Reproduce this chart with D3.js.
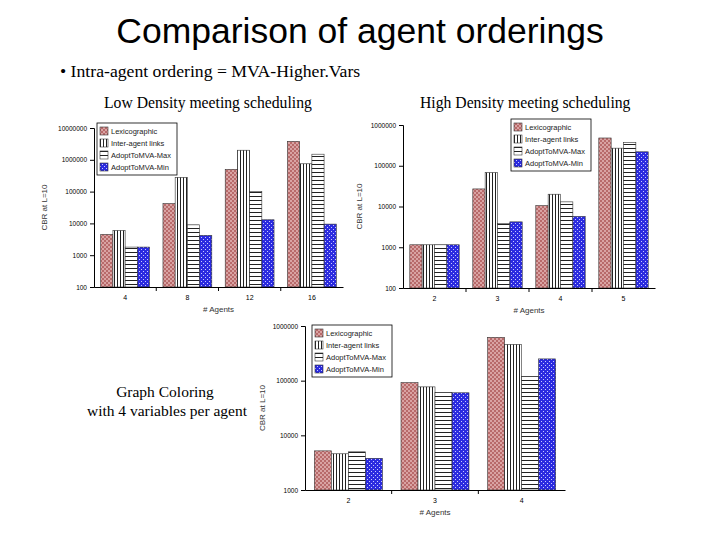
<!DOCTYPE html>
<html><head><meta charset="utf-8">
<script src="https://cdn.jsdelivr.net/npm/d3@7"></script>
<style>body{margin:0;background:#fff}</style>
</head><body>
<svg id="chart" width="720" height="540"></svg>
<script>
// series names shared by all three charts
const seriesNames = ["Lexicographic", "Inter-agent links", "AdoptToMVA-Max", "AdoptToMVA-Min"];

// low density meeting scheduling
const lowAgents = ["4", "8", "12", "16"];
const lowLex = [4500, 42000, 500000, 3800000];
const lowInter = [6000, 280000, 2000000, 750000];
const lowMax = [1800, 9000, 100000, 1500000];
const lowMin = [1800, 4200, 13000, 9500];
const lowTicks = [100, 1000, 10000, 100000, 1000000, 10000000];

// high density meeting scheduling
const highAgents = ["2", "3", "4", "5"];
const highLex = [1150, 27000, 10500, 480000];
const highInter = [1150, 68000, 20000, 270000];
const highMax = [1150, 3800, 13000, 370000];
const highMin = [1150, 4200, 5700, 220000];
const highTicks = [100, 1000, 10000, 100000, 1000000];

// graph coloring
const gcAgents = ["2", "3", "4"];
const gcLex = [5200, 92000, 620000];
const gcInter = [4600, 77000, 460000];
const gcMax = [5000, 61000, 120000];
const gcMin = [3800, 60000, 250000];
const gcTicks = [1000, 10000, 100000, 1000000];

const svg = d3.select("#chart");
const defs = svg.append("defs");

// fill patterns
const p0 = defs.append("pattern").attr("id", "pLex").attr("width", 4).attr("height", 4).attr("patternUnits", "userSpaceOnUse");
p0.append("rect").attr("width", 4).attr("height", 4).attr("fill", "#d9a3a3");
p0.append("rect").attr("width", 2).attr("height", 2).attr("fill", "#b86a6a");
p0.append("rect").attr("x", 2).attr("y", 2).attr("width", 2).attr("height", 2).attr("fill", "#b86a6a");
const p1 = defs.append("pattern").attr("id", "pInter").attr("width", 3).attr("height", 3).attr("patternUnits", "userSpaceOnUse");
p1.append("rect").attr("width", 3).attr("height", 3).attr("fill", "#fff");
p1.append("rect").attr("width", 1).attr("height", 3).attr("fill", "#222");
const p2 = defs.append("pattern").attr("id", "pMax").attr("width", 3).attr("height", 4).attr("patternUnits", "userSpaceOnUse");
p2.append("rect").attr("width", 3).attr("height", 4).attr("fill", "#fff");
p2.append("rect").attr("width", 3).attr("height", 1).attr("fill", "#222");
const p3 = defs.append("pattern").attr("id", "pMin").attr("width", 4).attr("height", 4).attr("patternUnits", "userSpaceOnUse");
p3.append("rect").attr("width", 4).attr("height", 4).attr("fill", "#2b2be0");
p3.append("rect").attr("x", 1).attr("y", 1).attr("width", 1).attr("height", 1).attr("fill", "#c8c8ff");
p3.append("rect").attr("x", 3).attr("y", 3).attr("width", 1).attr("height", 1).attr("fill", "#c8c8ff");
const fills = ["url(#pLex)", "url(#pInter)", "url(#pMax)", "url(#pMin)"];

function drawChart(c) {
    const g = svg.append("g");
    const x = d3.scaleBand().domain(c.agents).range([c.left, c.right]);
    const xs = d3.scaleBand().domain(d3.range(4)).range([0, x.bandwidth()]).paddingOuter(0.55).paddingInner(0);
    const y = d3.scaleLog().domain([c.ticks[0], c.ticks[c.ticks.length - 1]]).range([c.bottom, c.top]);

    c.series.forEach(function(vals, s) {
        g.selectAll(null).data(vals).enter().append("rect")
            .attr("x", (d, i) => x(c.agents[i]) + xs(s))
            .attr("width", xs.bandwidth())
            .attr("y", d => y(d))
            .attr("height", d => c.bottom - y(d))
            .attr("fill", fills[s])
            .attr("stroke", "#333").attr("stroke-width", 0.6);
    });

    g.append("g").attr("transform", "translate(" + c.left + ",0)")
        .call(d3.axisLeft(y).tickValues(c.ticks).tickFormat(d3.format("d")).tickSize(4))
        .call(a => a.selectAll("text").attr("font-size", 6.5).attr("font-family", "Arial"));
    const xa = g.append("g").attr("transform", "translate(0," + c.bottom + ")")
        .call(d3.axisBottom(x).tickSize(0).tickPadding(8));
    xa.selectAll("text").attr("font-size", 7).attr("font-family", "Arial");
    // separators between groups
    xa.selectAll(".sep").data(c.agents.slice(1)).enter().append("line")
        .attr("x1", d => x(d)).attr("x2", d => x(d)).attr("y1", 0).attr("y2", 4).attr("stroke", "#000");
    g.selectAll(".domain").attr("stroke", "#000");

    g.append("text").attr("transform", "translate(" + c.ylabX + "," + ((c.top + c.bottom) / 2) + ") rotate(-90)")
        .attr("text-anchor", "middle").attr("font-size", 8).attr("font-family", "Arial").attr("fill", "#333")
        .text("CBR at L=10");
    g.append("text").attr("x", (c.left + c.right) / 2).attr("y", c.bottom + 25)
        .attr("text-anchor", "middle").attr("font-size", 8).attr("font-family", "Arial").attr("fill", "#333")
        .text("# Agents");

    const lg = g.append("g").attr("transform", "translate(" + c.legX + "," + c.legY + ")");
    lg.append("rect").attr("width", 80).attr("height", 52).attr("fill", "#fff").attr("stroke", "#000").attr("stroke-width", 0.8);
    seriesNames.forEach(function(n, i) {
        lg.append("rect").attr("x", 3).attr("y", 4 + i * 12).attr("width", 8).attr("height", 8)
            .attr("fill", fills[i]).attr("stroke", "#333").attr("stroke-width", 0.6);
        lg.append("text").attr("x", 14).attr("y", 11 + i * 12).attr("font-size", 7.5)
            .attr("font-family", "Arial").attr("fill", "#222").text(n);
    });
}

drawChart({agents: lowAgents, series: [lowLex, lowInter, lowMax, lowMin], ticks: lowTicks,
    left: 94, right: 343, top: 128, bottom: 287, ylabX: 47, legX: 97, legY: 123});
drawChart({agents: highAgents, series: [highLex, highInter, highMax, highMin], ticks: highTicks,
    left: 403, right: 655, top: 125, bottom: 288, ylabX: 362, legX: 511, legY: 119});
drawChart({agents: gcAgents, series: [gcLex, gcInter, gcMax, gcMin], ticks: gcTicks,
    left: 305, right: 565, top: 326, bottom: 490, ylabX: 265, legX: 312, legY: 325});

svg.append("text").attr("x", 360).attr("y", 43).attr("text-anchor", "middle")
    .attr("font-family", "Arial").attr("font-size", 35.5).text("Comparison of agent orderings");
svg.append("text").attr("x", 60).attr("y", 77).attr("font-family", "Times New Roman, Liberation Serif, serif")
    .attr("font-size", 17.7).text("• Intra-agent ordering = MVA-Higher.Vars");
svg.append("text").attr("x", 104).attr("y", 108).attr("font-family", "Liberation Serif, serif")
    .attr("font-size", 15.7).text("Low Density meeting scheduling");
svg.append("text").attr("x", 420).attr("y", 108).attr("font-family", "Liberation Serif, serif")
    .attr("font-size", 15.7).text("High Density meeting scheduling");
svg.append("text").attr("x", 165).attr("y", 397).attr("text-anchor", "middle").attr("font-family", "Liberation Serif, serif")
    .attr("font-size", 15.5).text("Graph Coloring");
svg.append("text").attr("x", 167).attr("y", 416).attr("text-anchor", "middle").attr("font-family", "Liberation Serif, serif")
    .attr("font-size", 15.5).text("with 4 variables per agent");
</script>
</body></html>
